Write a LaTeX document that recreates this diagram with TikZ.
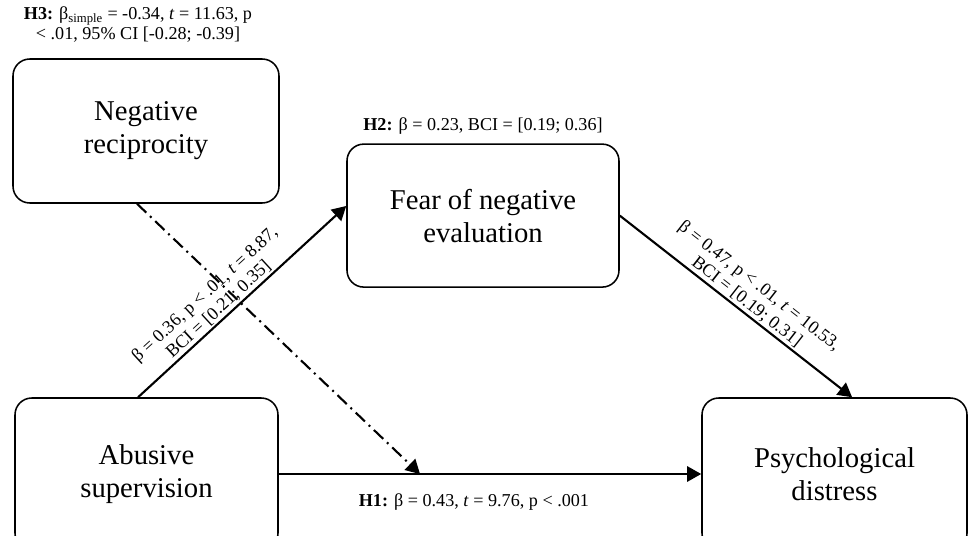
\documentclass[tikz,border=0pt]{standalone}
\usepackage{fontspec}
\setmainfont{Liberation Serif}
\usetikzlibrary{arrows.meta,positioning}

\begin{document}
\begin{tikzpicture}[
        box/.style={draw, line width=1.1pt, rounded corners=0.42cm, align=center, font=\fontsize{20.4}{23.4}\selectfont},
        lbl/.style={align=center, inner sep=1pt, font=\fontsize{12.9}{14.4}\selectfont},
        arrow/.style={-{Triangle[length=0.35cm,width=0.38cm]}, line width=1.5pt},
        modarrow/.style={arrow, dash pattern=on 0.32cm off 0.13cm on 0.05cm off 0.13cm}
    ]
        \fill[white] (0,0) rectangle (24.325,-13.4);
        \useasboundingbox (0,0) rectangle (24.325,-13.4);

        \node[box, minimum width=6.65cm, minimum height=3.6cm] (recip) at (3.65,-3.275) {Negative\\reciprocity};
        \node[box, minimum width=6.8cm, minimum height=3.575cm] (fear) at (12.075,-5.39) {Fear of negative\\evaluation};
        \node[box, minimum width=6.575cm, minimum height=3.8cm] (abuse) at (3.6625,-11.85) {Abusive\\supervision};
        \node[box, minimum width=6.625cm, minimum height=3.8cm] (distress) at (20.8625,-11.85) {Psychological\\distress};
        \coordinate (moderate) at (10.5,-11.85);

        \node[lbl, above=0.36cm of recip, xshift=-0.2cm] (h3) {\textbf{H3:} β\textsubscript{simple} = -0.34, \textit{t} = 11.63, p\\< .01, 95\% CI [-0.28; -0.39]};
        \node[lbl, above=0.18cm of fear] (h2) {\textbf{H2:} β = 0.23, BCI = [0.19; 0.36]};

        \draw[arrow] ([xshift=-0.21cm]abuse.north) -- node[lbl, sloped, above, pos=0.42] {β = 0.36, p < .01, \textit{t} = 8.87,\\BCI = [0.21; 0.35]} ([yshift=0.24cm]fear.west);
        \draw[arrow] (fear.east) -- node[lbl, sloped, above, pos=0.52] {β = 0.47, p < .01, \textit{t} = 10.53,\\BCI = [0.19; 0.31]} ([xshift=0.44cm]distress.north);
        \draw[arrow] (abuse.east) -- node[lbl, below=0.42cm, pos=0.462] (h1) {\textbf{H1:} β = 0.43, \textit{t} = 9.76, p < .001} (distress.west);
        \draw[modarrow] ([xshift=-0.225cm]recip.south) -- (moderate);
    \end{tikzpicture}
\end{document}
